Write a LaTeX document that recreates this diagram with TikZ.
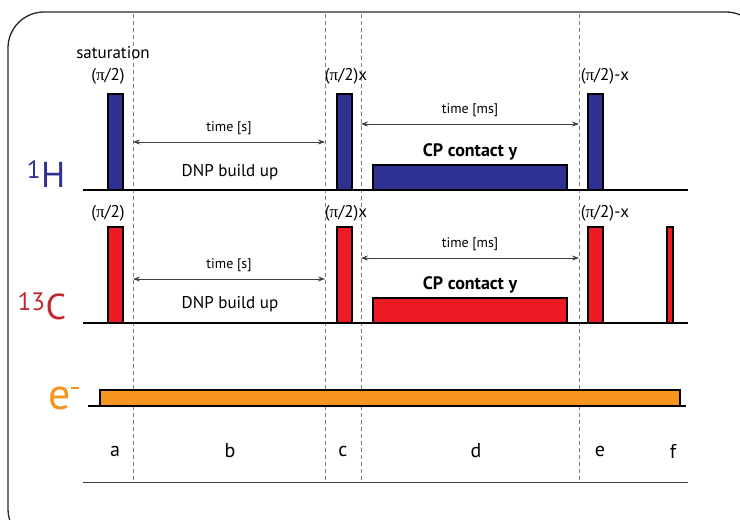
\documentclass[tikz,border=0pt]{standalone}
\usepackage{fontspec}
\setmainfont{PT Sans}
\newfontfamily\pifont{Liberation Serif}
\usetikzlibrary{arrows.meta}
\newcommand{\mypi}{{\pifont π}}
\definecolor{hblue}{HTML}{2E3192}
\definecolor{cred}{HTML}{ED1C24}
\definecolor{clabel}{HTML}{C1272D}
\definecolor{eorange}{HTML}{F7941D}
\tikzset{
  frame/.style={draw=black!85, line width=1.3pt, rounded corners=36pt},
  baseline/.style={draw=black, line width=1.3pt},
  divider/.style={draw=black!50, dashed, dash pattern=on 4pt off 3pt, line width=0.8pt},
  pulseH/.style={draw=black, line width=1.2pt, fill=hblue, anchor=south west, inner sep=0pt, outer sep=0pt},
  pulseC/.style={draw=black, line width=1.2pt, fill=cred, anchor=south west, inner sep=0pt, outer sep=0pt},
  pulseE/.style={draw=black, line width=1.2pt, fill=eorange, anchor=south west, inner sep=0pt, outer sep=0pt},
  timearrow/.style={draw=black!75, line width=0.7pt, {Stealth[length=7pt,width=5pt]}-{Stealth[length=7pt,width=5pt]}},
  lbl/.style={font=\fontsize{17}{19}\selectfont, inner sep=0pt},
  small/.style={font=\fontsize{14}{16}\selectfont, inner sep=0pt},
  boldlbl/.style={font=\fontsize{18}{20}\selectfont\bfseries, inner sep=0pt},
  nuc/.style={font=\fontsize{36}{40}\selectfont, inner sep=0pt},
  seg/.style={font=\fontsize{20}{22}\selectfont, inner sep=0pt}
}
\begin{document}
\begin{tikzpicture}[x=1pt,y=-1pt]
\useasboundingbox (0,0) rectangle (740,520);
\draw[frame] (8,12) rectangle (762,545);

% dashed dividers
\foreach \n/\x in {d1/133,d2/325,d3/361,d4/579}{
  \coordinate (\n t) at (\x,14);
  \coordinate (\n b) at (\x,482);
  \draw[divider] (\n t) -- (\n b);
}

% baselines
\coordinate (hL) at (83,190); \coordinate (hR) at (688,190);
\coordinate (cL) at (83,323); \coordinate (cR) at (688,323);
\coordinate (eL) at (88,406); \coordinate (eR) at (686,406);
\coordinate (bL) at (83,482); \coordinate (bR) at (688,482);
\draw[baseline] (hL) -- (hR);
\draw[baseline] (cL) -- (cR);
\draw[baseline] (eL) -- (eR);
\draw[baseline, line width=1pt, draw=black!75] (bL) -- (bR);

% 1H pulses
\node[pulseH, minimum width=15pt, minimum height=96pt] (h1) at (108,190) {};
\node[pulseH, minimum width=15pt, minimum height=96pt] (h2) at (337,190) {};
\node[pulseH, minimum width=194pt, minimum height=25pt] (hcp) at (373,190) {};
\node[pulseH, minimum width=15pt, minimum height=96pt] (h3) at (588,190) {};

% 13C pulses
\node[pulseC, minimum width=15pt, minimum height=96pt] (c1) at (108,323) {};
\node[pulseC, minimum width=15pt, minimum height=96pt] (c2) at (337,323) {};
\node[pulseC, minimum width=194pt, minimum height=25pt] (ccp) at (373,323) {};
\node[pulseC, minimum width=15pt, minimum height=96pt] (c3) at (588,323) {};
\node[pulseC, minimum width=6pt, minimum height=96pt] (c4) at (667,323) {};

% e- pulse
\node[pulseE, minimum width=580pt, minimum height=16pt] (e1) at (100,406) {};

% nucleus labels
\node[nuc, text=hblue] (lH) at (46,174) {\textsuperscript{1}H};
\node[nuc, text=clabel] (lC) at (42,306) {\textsuperscript{13}C};
\node[font=\fontsize{44}{48}\selectfont, inner sep=0pt, text=eorange, anchor=base] (lE) at (64,409) {e\raisebox{20pt}{\rule{8pt}{2.2pt}}};

% pulse labels 1H
\node[lbl] (sat) at (113,53) {saturation};
\node[lbl] (ph1) at (108,76) {(\mypi/2)};
\node[lbl] (ph2) at (346,76) {(\mypi/2)x};
\node[lbl] (ph3) at (605,76) {(\mypi/2)-x};
% pulse labels 13C
\node[lbl] (pc1) at (108,213) {(\mypi/2)};
\node[lbl] (pc2) at (346,213) {(\mypi/2)x};
\node[lbl] (pc3) at (605,213) {(\mypi/2)-x};

% time arrows 1H
\coordinate (hs1) at (133,142); \coordinate (hs2) at (325,142);
\draw[timearrow] (hs1) -- (hs2);
\node[small] (ts1) at (229,128) {time [s]};
\node[lbl] (dnp1) at (230,172) {DNP build up};
\coordinate (hm1) at (361,124); \coordinate (hm2) at (579,124);
\draw[timearrow] (hm1) -- (hm2);
\node[small] (tm1) at (470,110) {time [ms]};
\node[boldlbl] (cpH) at (470,152) {CP contact y};

% time arrows 13C
\coordinate (cs1) at (133,279); \coordinate (cs2) at (325,279);
\draw[timearrow] (cs1) -- (cs2);
\node[small] (ts2) at (229,265) {time [s]};
\node[lbl] (dnp2) at (230,304) {DNP build up};
\coordinate (cm1) at (361,258); \coordinate (cm2) at (579,258);
\draw[timearrow] (cm1) -- (cm2);
\node[small] (tm2) at (470,244) {time [ms]};
\node[boldlbl] (cpC) at (470,285) {CP contact y};

% segment letters
\foreach \n/\x/\t in {sa/115/a,sb/230/b,sc/343/c,sd/476/d,se/600/e,sf/673/f}{
  \node[seg] (\n) at (\x,451) {\t};
}
\end{tikzpicture}
\end{document}
